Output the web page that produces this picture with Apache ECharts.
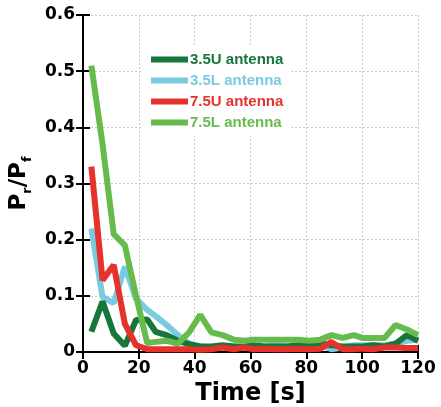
<!DOCTYPE html>
<html><head><meta charset="utf-8">
<script src="https://cdn.jsdelivr.net/npm/echarts@6/dist/echarts.min.js"></script>
<style>html,body{margin:0;padding:0;background:#fff}#c{width:441px;height:407px}</style>
</head><body><div id="c"></div>
<script>
const times = [3,7,11,15,19,23,26,30,34,38,42,46,50,54,58,61,65,69,73,77,81,85,89,93,97,100,104,108,112,116,120];
const u35 = [0.036,0.09,0.033,0.011,0.057,0.058,0.036,0.03,0.02,0.014,0.01,0.01,0.012,0.01,0.01,0.012,0.01,0.01,0.01,0.012,0.012,0.015,0.012,0.01,0.01,0.01,0.012,0.01,0.015,0.03,0.02];
const l35 = [0.22,0.098,0.087,0.152,0.095,0.075,0.064,0.048,0.03,0.015,0.01,0.008,0.01,0.01,0.008,0.008,0.01,0.012,0.01,0.008,0.01,0.012,0.005,0.008,0.012,0.012,0.012,0.012,0.015,0.02,0.022];
const u75 = [0.33,0.128,0.155,0.05,0.012,0.005,0.005,0.005,0.005,0.005,0.004,0.005,0.008,0.005,0.008,0.005,0.006,0.005,0.005,0.006,0.005,0.006,0.018,0.005,0.005,0.006,0.005,0.008,0.008,0.007,0.007];
const l75 = [0.51,0.37,0.21,0.19,0.10,0.016,0.018,0.02,0.015,0.035,0.066,0.035,0.03,0.022,0.02,0.022,0.022,0.022,0.022,0.022,0.02,0.022,0.03,0.025,0.03,0.025,0.025,0.025,0.048,0.04,0.03];
const names = ['3.5U antenna','3.5L antenna','7.5U antenna','7.5L antenna'];
const colors = ['#17773a','#78cbe0','#e6322b','#66bb4c'];
const xTicks = [0,20,40,60,80,100,120];
const yTicks = [0,0.1,0.2,0.3,0.4,0.5,0.6];

const pair = (v) => times.map((t,i)=>[t,v[i]]);
const chart = echarts.init(document.getElementById('c'));
const tickFont = {fontFamily:'DejaVu Sans', fontWeight:'bold', fontSize:17, color:'#000'};
const axisLine = {show:true, lineStyle:{color:'#000', width:2}};
const tick = {show:true, inside:true, length:7, lineStyle:{color:'#000', width:2}};
const seriesData = [l35, u35, l75, u75];
const seriesIdx = [1,0,3,2];
option = {
  animation:false,
  backgroundColor:'#fff',
  grid:{left:83, right:23, top:15, bottom:55, containLabel:false, outerBoundsMode:'none'},
  legend:{
    orient:'vertical', left:143, top:46, itemWidth:37, itemHeight:6, itemGap:6,
    icon:'rect', backgroundColor:'#fff', padding:[6,8,6,8],
    data: names.map((n,i)=>({name:n, textStyle:{color:colors[i]}})),
    textStyle:{fontFamily:'Liberation Sans', fontWeight:'bold', fontSize:15, padding:[0,0,0,-3]}
  },
  xAxis:[{
    type:'value', min:xTicks[0], max:xTicks[xTicks.length-1], interval:20,
    name:'Time [s]', nameLocation:'middle', nameGap:30,
    nameTextStyle:{fontFamily:'DejaVu Sans', fontWeight:'bold', fontSize:24, color:'#000'},
    axisLine:axisLine, axisTick:tick,
    axisLabel:Object.assign({margin:8}, tickFont),
    splitLine:{show:true, lineStyle:{color:'#c8c8c8', type:[2,2], width:1}}
  },{
    type:'value', position:'top', min:0, max:120, interval:20,
    axisLine:axisLine, axisTick:tick, axisLabel:{show:false}, splitLine:{show:false}
  }],
  yAxis:[{
    type:'value', min:yTicks[0], max:yTicks[yTicks.length-1], interval:0.1,
    name:'{a|P}{s|r}{a|/P}{s|f}', nameLocation:'middle', nameGap:46, nameRotate:90,
    nameTextStyle:{fontFamily:'DejaVu Sans', fontWeight:'bold', color:'#000',
      rich:{a:{fontFamily:'DejaVu Sans', fontWeight:'bold', fontSize:23, lineHeight:30, color:'#000'},
            s:{fontFamily:'DejaVu Sans', fontWeight:'bold', fontSize:13, lineHeight:14, verticalAlign:'bottom', color:'#000'}}},
    axisLine:axisLine, axisTick:tick,
    axisLabel:Object.assign({margin:8, formatter:(v)=> v===0 ? '0' : v.toFixed(1)}, tickFont),
    splitLine:{show:true, lineStyle:{color:'#c8c8c8', type:[2,2], width:1}}
  },{
    type:'value', position:'right', min:0, max:0.6, interval:0.1,
    axisLine:axisLine, axisTick:tick, axisLabel:{show:false}, splitLine:{show:false}
  }],
  series: seriesIdx.map((k,j)=>({
    name:names[k], type:'line', data:pair(seriesData[j]),
    showSymbol:false, symbol:'none', lineStyle:{width:6, color:colors[k]}, itemStyle:{color:colors[k]},
    z:2+j, clip:true
  }))
};
chart.setOption(option);
</script></body></html>
